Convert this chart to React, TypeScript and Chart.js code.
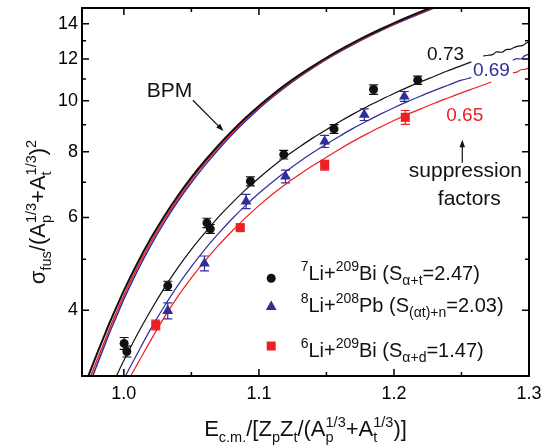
import React, { useEffect, useRef } from 'react';
import { Chart, registerables } from 'chart.js';

Chart.register(...registerables);

// ---------- tick values ----------
const xTickValues = [1.0, 1.05, 1.1, 1.15, 1.2, 1.25, 1.3];
const xTickLabels = ['1.0', '', '1.1', '', '1.2', '', '1.3'];
const yTickValues = [4, 5, 6, 7, 8, 9, 10, 11, 12, 13, 14];
const yTickLabels = ['4', '', '6', '', '8', '', '10', '', '12', '', '14'];

// ---------- BPM curves ----------
const bpmX = [0.965, 0.97, 0.975, 0.98, 0.985, 0.99, 0.995, 1.0, 1.01, 1.02, 1.03, 1.04, 1.05, 1.06, 1.07, 1.08, 1.09, 1.1, 1.11, 1.12, 1.13, 1.14, 1.15, 1.16, 1.17, 1.18, 1.19, 1.2, 1.21, 1.22, 1.23, 1.24];
const bpmBlack = [2.621, 2.834, 3.061, 3.301, 3.551, 3.816, 4.08, 4.359, 4.914, 5.477, 6.041, 6.6, 7.15, 7.691, 8.227, 8.753, 9.268, 9.773, 10.264, 10.74, 11.197, 11.637, 12.067, 12.487, 12.893, 13.287, 13.67, 14.043, 14.407, 14.764, 15.117, 15.467];
const bpmRed = [2.548, 2.755, 2.975, 3.209, 3.452, 3.721, 3.986, 4.267, 4.826, 5.389, 5.956, 6.521, 7.079, 7.622, 8.161, 8.692, 9.212, 9.724, 10.213, 10.686, 11.141, 11.579, 12.019, 12.437, 12.841, 13.234, 13.615, 13.987, 14.349, 14.705, 15.057, 15.405];
const bpmBlue = [2.477, 2.684, 2.908, 3.143, 3.391, 3.656, 3.917, 4.198, 4.752, 5.313, 5.878, 6.442, 6.993, 7.537, 8.079, 8.613, 9.138, 9.656, 10.151, 10.633, 11.096, 11.544, 11.983, 12.4, 12.803, 13.194, 13.574, 13.945, 14.306, 14.659, 15.011, 15.358];

// ---------- suppressed fusion curves ----------
const fus073X = [0.99, 0.995, 1.0, 1.01, 1.02, 1.03, 1.04, 1.05, 1.06, 1.07, 1.08, 1.09, 1.1, 1.11, 1.12, 1.13, 1.14, 1.15, 1.16, 1.17, 1.18, 1.19, 1.2, 1.21, 1.22, 1.23, 1.24, 1.25, 1.2573, 1.262, 1.266, 1.27, 1.273, 1.276, 1.28, 1.283, 1.286, 1.289, 1.292, 1.295, 1.298, 1.3];
const fus073Y = [2.84, 3.02, 3.21, 3.6, 4.0, 4.41, 4.82, 5.22, 5.61, 6.01, 6.39, 6.77, 7.13, 7.49, 7.84, 8.17, 8.5, 8.81, 9.13, 9.44, 9.74, 10.03, 10.32, 10.6, 10.87, 11.13, 11.4, 11.66, 11.85, null, 12.16, 12.2, 12.23, 12.38, 12.36, 12.5, 12.52, 12.62, 12.7, 12.72, 12.87, 12.93];

const fus069X = [0.995, 1.0, 1.01, 1.02, 1.03, 1.04, 1.05, 1.06, 1.07, 1.08, 1.09, 1.1, 1.11, 1.12, 1.13, 1.14, 1.15, 1.16, 1.17, 1.18, 1.19, 1.2, 1.21, 1.22, 1.23, 1.24, 1.25, 1.2573, 1.27, 1.288, 1.291, 1.294, 1.297, 1.3];
const fus069Y = [2.78, 2.96, 3.31, 3.69, 4.07, 4.46, 4.84, 5.22, 5.59, 5.96, 6.32, 6.67, 7.01, 7.34, 7.66, 7.97, 8.27, 8.57, 8.87, 9.15, 9.43, 9.7, 9.96, 10.21, 10.46, 10.7, 10.94, 11.06, null, 11.94, 12.02, 12.0, 12.18, 12.25];

const fus065X = [1.0, 1.005, 1.01, 1.02, 1.03, 1.04, 1.05, 1.06, 1.07, 1.08, 1.09, 1.1, 1.11, 1.12, 1.13, 1.14, 1.15, 1.16, 1.17, 1.18, 1.19, 1.2, 1.21, 1.22, 1.23, 1.24, 1.25, 1.26, 1.2721, 1.28, 1.288, 1.291, 1.294, 1.297, 1.3];
const fus065Y = [2.86, 3.0, 3.16, 3.51, 3.88, 4.25, 4.61, 4.96, 5.31, 5.65, 5.99, 6.32, 6.64, 6.95, 7.24, 7.53, 7.81, 8.1, 8.38, 8.65, 8.91, 9.17, 9.42, 9.65, 9.89, 10.12, 10.35, 10.57, 10.85, null, 11.3, 11.33, 11.45, 11.47, 11.55];

// ---------- experimental data ----------
const li7X = [1.0002, 1.0022, 1.0325, 1.0615, 1.064, 1.0937, 1.1184, 1.1556, 1.1849, 1.2176];
const li7Y = [3.46, 3.34, 4.45, 5.86, 5.71, 7.03, 7.9, 8.84, 10.5, 10.94];
const li7Err = [0.09, 0.08, 0.09, 0.12, 0.11, 0.14, 0.15, 0.17, 0.22, 0.2];

const li8X = [1.0325, 1.0597, 1.0905, 1.1197, 1.1487, 1.178, 1.2077];
const li8Y = [3.99, 4.91, 6.44, 7.18, 8.37, 9.41, 10.19];
const li8Err = [0.14, 0.16, 0.2, 0.2, 0.22, 0.24, 0.22];

const li6X = [1.0236, 1.0862, 1.1487, 1.2084];
const li6Y = [3.75, 5.74, 7.54, 9.3];
const li6Err = [0.08, 0.06, 0.16, 0.28];

// ---------- styles ----------
const FONT = '"Liberation Sans", Arial, Helvetica, sans-serif';
const C_BLACK = '#111111';
const C_BLUE = '#2e2e98';
const C_RED = '#ee1f23';

type Seg = [string, string, string?];

const legendRows: { segs: Seg[]; color: string; shape: string; mx: number; my: number; ty: number }[] = [
  { segs: [['sup', '7'], ['n', 'Li+'], ['sup', '209'], ['n', 'Bi (S'], ['sub', 'α+t'], ['n', '=2.47)']], color: C_BLACK, shape: 'circle', mx: 1.1091, my: 4.6, ty: 4.568 },
  { segs: [['sup', '8'], ['n', 'Li+'], ['sup', '208'], ['n', 'Pb (S'], ['sub', '(αt)+n'], ['n', '=2.03)']], color: C_BLUE, shape: 'triangle', mx: 1.1091, my: 4.06, ty: 3.975 },
  { segs: [['sup', '6'], ['n', 'Li+'], ['sup', '209'], ['n', 'Bi (S'], ['sub', 'α+d'], ['n', '=1.47)']], color: C_RED, shape: 'rect', mx: 1.1091, my: 3.42, ty: 3.265 },
];
const legendTextX = 1.1309;

const xTitle: Seg[] = [['n', 'E'], ['sub', 'c.m.'], ['n', '/[Z'], ['sub', 'p'], ['n', 'Z'], ['sub', 't'], ['n', '/(A'], ['ss', 'p', '1/3'], ['n', '+A'], ['ss', 't', '1/3'], ['n', ')]']];
const yTitle: Seg[] = [['n', 'σ'], ['sub', 'fus'], ['n', '/(A'], ['ss', 'p', '1/3'], ['n', '+A'], ['ss', 't', '1/3'], ['n', ')'], ['sup', '2']];

function drawRich(ctx: CanvasRenderingContext2D, segs: Seg[], x: number, y: number, size: number, color: string, align: string, smallRatio = 0.66) {
  const small = size * smallRatio;
  const widths = segs.map((s) => {
    if (s[0] === 'n') {
      ctx.font = `${size}px ${FONT}`;
      return ctx.measureText(s[1]).width;
    }
    ctx.font = `${small}px ${FONT}`;
    if (s[0] === 'ss') return Math.max(ctx.measureText(s[1]).width, ctx.measureText(s[2] || '').width);
    return ctx.measureText(s[1]).width;
  });
  const total = widths.reduce((a, b) => a + b, 0);
  let cx = align === 'center' ? x - total / 2 : x;
  ctx.fillStyle = color;
  ctx.textAlign = 'left';
  ctx.textBaseline = 'alphabetic';
  segs.forEach((s, i) => {
    if (s[0] === 'n') {
      ctx.font = `${size}px ${FONT}`;
      ctx.fillText(s[1], cx, y);
    } else {
      ctx.font = `${small}px ${FONT}`;
      if (s[0] === 'sub') ctx.fillText(s[1], cx, y + size * 0.28);
      else if (s[0] === 'sup') ctx.fillText(s[1], cx, y - size * 0.42);
      else {
        ctx.fillText(s[1], cx, y + size * 0.28);
        ctx.fillText(s[2] || '', cx, y - size * 0.42);
      }
    }
    cx += widths[i];
  });
  return total;
}

function drawMarker(ctx: CanvasRenderingContext2D, shape: string, x: number, y: number, color: string) {
  ctx.fillStyle = color;
  ctx.beginPath();
  if (shape === 'circle') {
    ctx.arc(x, y, 4.5, 0, Math.PI * 2);
  } else if (shape === 'triangle') {
    const r = 6.2;
    ctx.moveTo(x, y - r);
    ctx.lineTo(x + r * 0.866, y + r * 0.5);
    ctx.lineTo(x - r * 0.866, y + r * 0.5);
    ctx.closePath();
  } else {
    ctx.rect(x - 4.5, y - 4.5, 9, 9);
  }
  ctx.fill();
}

function arrow(ctx: CanvasRenderingContext2D, x1: number, y1: number, x2: number, y2: number, color: string, head: number) {
  const ang = Math.atan2(y2 - y1, x2 - x1);
  ctx.strokeStyle = color;
  ctx.fillStyle = color;
  ctx.lineWidth = 1.2;
  ctx.beginPath();
  ctx.moveTo(x1, y1);
  ctx.lineTo(x2 - Math.cos(ang) * head * 0.6, y2 - Math.sin(ang) * head * 0.6);
  ctx.stroke();
  ctx.beginPath();
  ctx.moveTo(x2, y2);
  ctx.lineTo(x2 - head * Math.cos(ang - 0.35), y2 - head * Math.sin(ang - 0.35));
  ctx.lineTo(x2 - head * Math.cos(ang + 0.35), y2 - head * Math.sin(ang + 0.35));
  ctx.closePath();
  ctx.fill();
}

const pts = (xs: number[], ys: (number | null)[]) => xs.map((x, i) => ({ x, y: ys[i] }));

const errorBarPlugin = {
  id: 'errorBars',
  beforeDatasetsDraw(chart: any) {
    const { ctx, chartArea: ca, scales } = chart;
    const xs = scales.x;
    const ys = scales.y;
    const sets: [number[], number[], number[], string][] = [
      [li7X, li7Y, li7Err, C_BLACK],
      [li8X, li8Y, li8Err, C_BLUE],
      [li6X, li6Y, li6Err, C_RED],
    ];
    ctx.save();
    ctx.beginPath();
    ctx.rect(ca.left, ca.top, ca.width, ca.height);
    ctx.clip();
    ctx.lineWidth = 1.2;
    sets.forEach(([X, Y, E, col]) => {
      ctx.strokeStyle = col;
      X.forEach((xv, i) => {
        const px = xs.getPixelForValue(xv);
        const top = ys.getPixelForValue(Y[i] + E[i]);
        const bot = ys.getPixelForValue(Y[i] - E[i]);
        ctx.beginPath();
        ctx.moveTo(px, top);
        ctx.lineTo(px, bot);
        ctx.moveTo(px - 4.5, top);
        ctx.lineTo(px + 4.5, top);
        ctx.moveTo(px - 4.5, bot);
        ctx.lineTo(px + 4.5, bot);
        ctx.stroke();
      });
    });
    ctx.restore();
  },
};

const decorPlugin = {
  id: 'decor',
  afterDraw(chart: any) {
    const { ctx, chartArea: ca, scales } = chart;
    const xs = scales.x;
    const ys = scales.y;
    const X = (v: number) => xs.getPixelForValue(v);
    const Y = (v: number) => ys.getPixelForValue(v);
    ctx.save();
    // inward ticks on all four sides
    ctx.strokeStyle = '#000';
    ctx.lineWidth = 1.5;
    xs.ticks.forEach((t: any) => {
      const px = X(t.value);
      const L = t.label ? 7 : 4;
      ctx.beginPath();
      ctx.moveTo(px, ca.bottom);
      ctx.lineTo(px, ca.bottom - L);
      ctx.moveTo(px, ca.top);
      ctx.lineTo(px, ca.top + L);
      ctx.stroke();
    });
    ys.ticks.forEach((t: any) => {
      const py = Y(t.value);
      const L = t.label ? 7 : 4;
      ctx.beginPath();
      ctx.moveTo(ca.left, py);
      ctx.lineTo(ca.left + L, py);
      ctx.moveTo(ca.right, py);
      ctx.lineTo(ca.right - L, py);
      ctx.stroke();
    });
    // frame
    ctx.lineWidth = 2;
    ctx.strokeRect(ca.left, ca.top, ca.width, ca.height);

    // annotations
    ctx.font = `21px ${FONT}`;
    ctx.fillStyle = C_BLACK;
    ctx.textAlign = 'left';
    ctx.textBaseline = 'alphabetic';
    ctx.fillText('BPM', X(1.0169), Y(10.17));
    arrow(ctx, X(1.0511), Y(10.02), X(1.0738), Y(8.76), C_BLACK, 8);

    ctx.font = `19px ${FONT}`;
    ctx.fillStyle = C_BLACK;
    ctx.fillText('0.73', X(1.2245), Y(11.97));
    ctx.fillStyle = C_BLUE;
    ctx.fillText('0.69', X(1.2585), Y(11.13));
    ctx.fillStyle = C_RED;
    ctx.fillText('0.65', X(1.2387), Y(9.14));

    arrow(ctx, X(1.2506), Y(7.62), X(1.2506), Y(8.43), C_BLACK, 8);
    ctx.font = `21px ${FONT}`;
    ctx.fillStyle = C_BLACK;
    ctx.textAlign = 'center';
    ctx.fillText('suppression', X(1.2529), Y(7.15));
    ctx.fillText('factors', X(1.2558), Y(6.34));

    // legend
    legendRows.forEach((r) => {
      drawMarker(ctx, r.shape, X(r.mx), Y(r.my), r.color);
      drawRich(ctx, r.segs, X(legendTextX), Y(r.ty), 20, C_BLACK, 'left', 0.7);
    });

    // axis titles
    drawRich(ctx, xTitle, (ca.left + ca.right) / 2, 436, 22, C_BLACK, 'center');
    ctx.save();
    ctx.translate(45, 212);
    ctx.rotate(-Math.PI / 2);
    drawRich(ctx, yTitle, 0, 0, 22, C_BLACK, 'center');
    ctx.restore();
    ctx.restore();
  },
};

export default function App() {
  const ref = useRef<HTMLCanvasElement | null>(null);
  useEffect(() => {
    if (!ref.current) return;
    const lineDs = (label: string, data: any[], color: string, width: number) => ({
      type: 'line' as const,
      label,
      data,
      borderColor: color,
      backgroundColor: color,
      borderWidth: width,
      pointRadius: 0,
      cubicInterpolationMode: 'monotone' as const,
      spanGaps: false,
      fill: false,
    });
    const markDs = (label: string, data: any[], color: string, style: string, radius: number) => ({
      type: 'line' as const,
      label,
      data,
      showLine: false,
      pointStyle: style,
      pointRadius: radius,
      pointBackgroundColor: color,
      pointBorderColor: color,
      pointBorderWidth: 0,
      borderColor: color,
      backgroundColor: color,
    });
    const chart = new Chart(ref.current, {
      type: 'line',
      data: {
        datasets: [
          markDs('7Li+209Bi', pts(li7X, li7Y), C_BLACK, 'circle', 4.5),
          markDs('8Li+208Pb', pts(li8X, li8Y), C_BLUE, 'triangle', 6.2),
          markDs('6Li+209Bi', pts(li6X, li6Y), C_RED, 'rect', 6.4),
          lineDs('0.73', pts(fus073X, fus073Y), C_BLACK, 1.2),
          lineDs('0.69', pts(fus069X, fus069Y), C_BLUE, 1.2),
          lineDs('0.65', pts(fus065X, fus065Y), C_RED, 1.2),
          lineDs('BPM black', pts(bpmX, bpmBlack), C_BLACK, 2),
          lineDs('BPM red', pts(bpmX, bpmRed), C_RED, 1.5),
          lineDs('BPM blue', pts(bpmX, bpmBlue), C_BLUE, 1.5),
        ],
      },
      options: {
        responsive: false,
        animation: false,
        devicePixelRatio: 1,
        layout: { padding: { left: 0, right: 12, top: 8, bottom: 0 } },
        plugins: { legend: { display: false }, tooltip: { enabled: false } },
        scales: {
          x: {
            type: 'linear',
            min: 0.969,
            max: 1.3,
            grid: { display: false, drawTicks: false },
            border: { display: false },
            afterBuildTicks: (s: any) => {
              s.ticks = xTickValues.map((v) => ({ value: v }));
            },
            afterFit: (s: any) => {
              s.height = 72;
              s.paddingLeft = 0;
              s.paddingRight = 0;
            },
            ticks: {
              autoSkip: false,
              maxRotation: 0,
              padding: 7,
              color: '#000',
              font: { family: FONT, size: 18 },
              callback: (v: any) => {
                const i = xTickValues.findIndex((t) => Math.abs(t - Number(v)) < 1e-6);
                return i >= 0 ? xTickLabels[i] : '';
              },
            },
          },
          y: {
            type: 'logarithmic',
            min: 3,
            max: 15,
            grid: { display: false, drawTicks: false },
            border: { display: false },
            afterBuildTicks: (s: any) => {
              s.ticks = yTickValues.map((v) => ({ value: v }));
            },
            afterFit: (s: any) => {
              s.width = 82;
              s.paddingTop = 0;
              s.paddingBottom = 0;
            },
            ticks: {
              autoSkip: false,
              padding: 4,
              color: '#000',
              font: { family: FONT, size: 18 },
              callback: (v: any) => {
                const i = yTickValues.findIndex((t) => Math.abs(t - Number(v)) < 1e-6);
                return i >= 0 ? yTickLabels[i] : '';
              },
            },
          },
        },
      },
      plugins: [errorBarPlugin, decorPlugin],
    } as any);
    return () => chart.destroy();
  }, []);
  return (
    <div style={{ position: 'absolute', left: 0, top: 0, width: 541, height: 448, background: '#fff' }}>
      <canvas ref={ref} width={541} height={448} style={{ display: 'block', width: 541, height: 448 }} />
    </div>
  );
}
